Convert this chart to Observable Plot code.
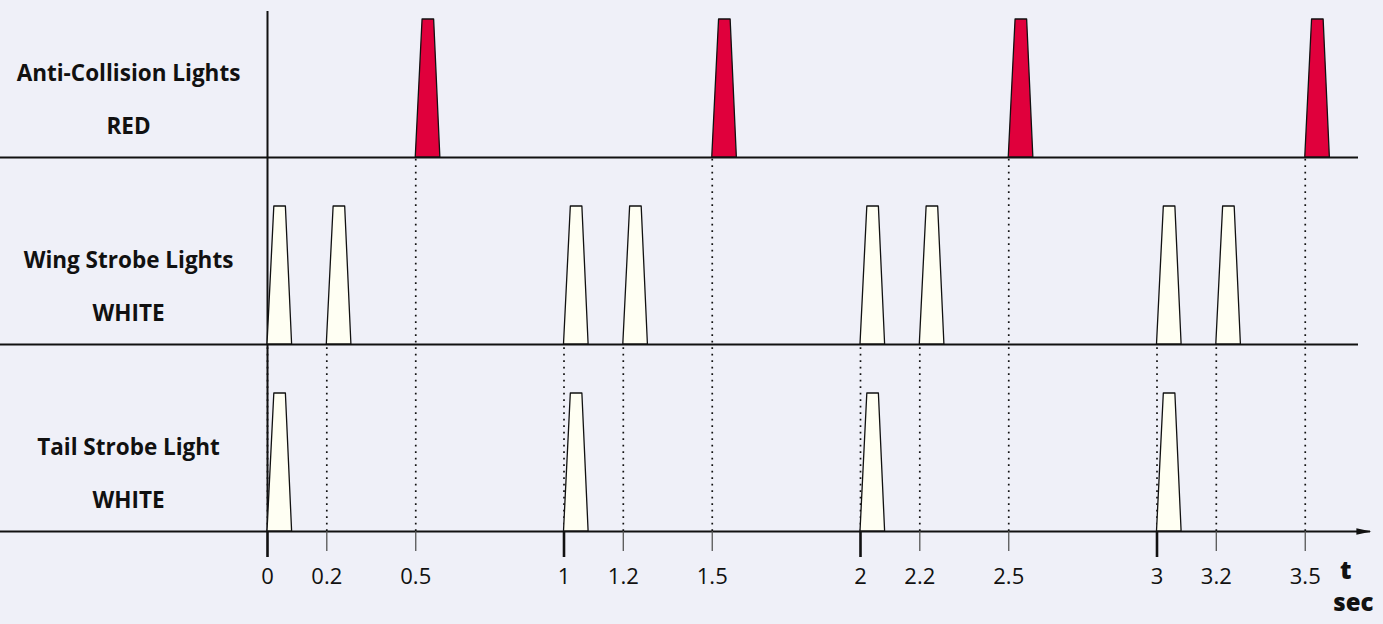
<!DOCTYPE html>
<html><head><meta charset="utf-8">
<script src="https://cdn.jsdelivr.net/npm/d3@7"></script>
<script src="https://cdn.jsdelivr.net/npm/@observablehq/plot@0.6"></script>
<style>
html,body{margin:0;padding:0;background:#eff0f8;overflow:hidden;}
</style></head><body><div id="chart"></div>
<script>
// ---- data ----
const rowNames = ["Anti-Collision Lights", "Wing Strobe Lights", "Tail Strobe Light"];
const rowColorNames = ["RED", "WHITE", "WHITE"];
const rowBase = [2, 1, 0];
const redFlashes = [0.5, 1.5, 2.5, 3.5];
const wingFlashes = [0, 0.2, 1, 1.2, 2, 2.2, 3, 3.2];
const tailFlashes = [0, 1, 2, 3];
const majorTicks = [0, 1, 2, 3];
const minorTicks = [0.2, 0.5, 1.2, 1.5, 2.2, 2.5, 3.2, 3.5];
// flash shape (seconds / relative intensity)
const flashRise = 0.023, flashTopEnd = 0.062, flashDuration = 0.083, flashHeight = 0.738;

// ---- build pulse polygons ----
function pulses(times, base, row) {
  const shape = [[0, 0], [flashRise, flashHeight], [flashTopEnd, flashHeight], [flashDuration, 0]];
  return times.flatMap((t, i) => shape.map(([dt, h]) => ({id: row + "-" + i, x: t + dt, y1: base, y2: base + h})));
}
const redData = pulses(redFlashes, rowBase[0], "r");
const wingData = pulses(wingFlashes, rowBase[1], "w");
const tailData = pulses(tailFlashes, rowBase[2], "t");

const labels = rowNames.map((n, i) => ({name: n, color: rowColorNames[i], base: rowBase[i]}));

const ink = "#111";
const font = "'Open Sans', sans-serif";
const dotted = {stroke: ink, strokeWidth: 1.7, strokeDasharray: "1.8,4.7"};
const arrowHead = {draw(ctx) { ctx.moveTo(0, 0); ctx.lineTo(-15, -3.3); ctx.lineTo(-15, 3.3); ctx.closePath(); }};

const chart = Plot.plot({
  width: 1383, height: 624,
  marginLeft: 0, marginRight: 25, marginTop: 11, marginBottom: 93,
  x: {domain: [-0.9005, 3.6796], axis: null, label: null},
  y: {domain: [0, 2.7807], axis: null, label: null},
  style: {background: "#eff0f8", fontFamily: font, color: ink},
  marks: [
    Plot.ruleX(redFlashes, {x: d => d, y1: 0, y2: 2, ...dotted}),
    Plot.ruleX(wingFlashes, {x: d => d, y1: 0, y2: 1, ...dotted}),
    Plot.ruleY([1, 2], {stroke: ink, strokeWidth: 2}),
    Plot.ruleY([0], {x1: -0.9005, x2: 3.72, stroke: ink, strokeWidth: 2}),
    Plot.dot([3.723], {x: d => d, y: 0, symbol: arrowHead, r: 5, fill: ink, stroke: "none"}),
    Plot.ruleX([0], {y1: 0, y2: 2.7807, stroke: ink, strokeWidth: 2}),
    Plot.areaY(redData, {x: "x", y1: "y1", y2: "y2", z: "id", fill: "#e0003c", stroke: ink, strokeWidth: 1.3, curve: "linear"}),
    Plot.areaY(wingData, {x: "x", y1: "y1", y2: "y2", z: "id", fill: "#fffff3", stroke: ink, strokeWidth: 1.3, curve: "linear"}),
    Plot.areaY(tailData, {x: "x", y1: "y1", y2: "y2", z: "id", fill: "#fffff3", stroke: ink, strokeWidth: 1.3, curve: "linear"}),
    Plot.axisX(majorTicks, {tickSize: 26, strokeWidth: 2.6, stroke: ink, tickPadding: 11, fontSize: 22, fill: ink, label: null, tickFormat: d => String(d)}),
    Plot.axisX(minorTicks, {tickSize: 20, strokeWidth: 1.3, stroke: "#555", tickPadding: 17, fontSize: 22, fill: ink, label: null, tickFormat: d => String(d)}),
    Plot.text(labels, {y: d => d.base + 0.446, text: "name", frameAnchor: "left", dx: 128, textAnchor: "middle", fontSize: 22.5, fontWeight: 700, fill: ink}),
    Plot.text(labels, {y: d => d.base + 0.165, text: "color", frameAnchor: "left", dx: 128, textAnchor: "middle", fontSize: 22.5, fontWeight: 700, fill: ink}),
    Plot.text(["t"], {text: d => d, frameAnchor: "bottom-right", dx: -7, dy: 47, fontSize: 25, fontWeight: 800, fill: ink}),
    Plot.text(["sec"], {text: d => d, frameAnchor: "bottom-right", dx: 15, dy: 79, textAnchor: "end", fontSize: 24, fontWeight: 800, fill: ink})
  ]
});
document.getElementById("chart").appendChild(chart);
</script>
</body></html>
